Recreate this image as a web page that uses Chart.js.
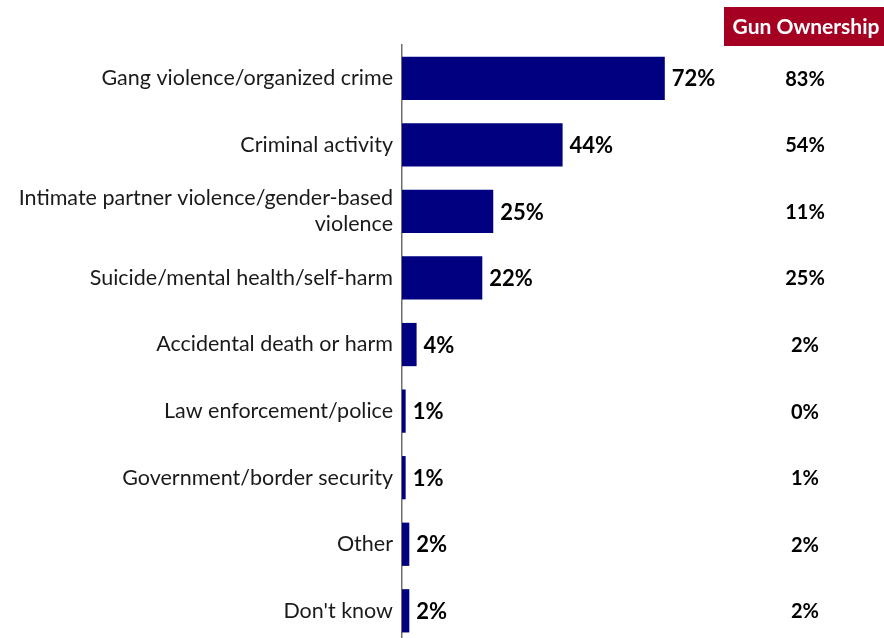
<!DOCTYPE html>
<html>
<head>
<meta charset="utf-8">
<script src="https://cdn.jsdelivr.net/npm/chart.js@4/dist/chart.umd.min.js"></script>
<style>
  html, body { margin: 0; padding: 0; background: #fff; overflow: hidden; }
  #wrap { position: relative; width: 884px; height: 638px; overflow: hidden; }
</style>
</head>
<body>
<div id="wrap"><canvas id="myChart" width="884" height="666"></canvas></div>
<script>
var categories = [
  'Gang violence/organized crime',
  'Criminal activity',
  ['Intimate partner violence/gender-based', 'violence'],
  'Suicide/mental health/self-harm',
  'Accidental death or harm',
  'Law enforcement/police',
  'Government/border security',
  'Other',
  "Don't know"
];
var totalVals = [72, 44, 25, 22, 4, 1, 1, 2, 2];
var gunOwnerVals = [83, 54, 11, 25, 2, 0, 1, 2, 2];
var gunOwnerTitle = 'Gun Ownership';

var FONT = 'Lato, "Open Sans", sans-serif';

// bar value labels plus the side column with its header box
var labelPlugin = {
  id: 'labels',
  afterDraw: function(chart) {
    var ctx = chart.ctx;
    var meta = chart.getDatasetMeta(0);
    var colX = 805;
    ctx.save();
    ctx.fillStyle = '#000';
    ctx.textBaseline = 'middle';
    meta.data.forEach(function(bar, i) {
      ctx.textAlign = 'left';
      ctx.font = 'bold 22px ' + FONT;
      ctx.fillText(totalVals[i] + '%', bar.x + 7, bar.y + 1);
      ctx.textAlign = 'center';
      ctx.font = 'bold 20px ' + FONT;
      ctx.fillText(gunOwnerVals[i] + '%', colX, bar.y + 1);
    });
    ctx.fillStyle = '#A50021';
    ctx.fillRect(724, 7, 160, 39);
    ctx.fillStyle = '#fff';
    ctx.font = 'bold 21px ' + FONT;
    ctx.textAlign = 'center';
    ctx.fillText(gunOwnerTitle, 806, 27);
    ctx.restore();
  }
};

var ctx = document.getElementById('myChart').getContext('2d');
var myChart = new Chart(ctx, {
  type: 'bar',
  data: {
    labels: categories,
    datasets: [{
      data: totalVals,
      backgroundColor: '#000080',
      barPercentage: 0.65,
      categoryPercentage: 1
    }]
  },
  options: {
    indexAxis: 'y',
    responsive: false,
    animation: false,
    layout: { padding: { top: 45, right: 117, bottom: 0, left: 0 } },
    plugins: {
      legend: { display: false },
      tooltip: { enabled: false }
    },
    scales: {
      x: {
        display: false,
        min: 0,
        max: 100
      },
      y: {
        afterFit: function(s) { s.width = 402; },
        grid: { display: false, drawTicks: false },
        border: { display: true, color: '#6e6e6e', width: 1.5 },
        ticks: {
          color: '#1a1a1a',
          padding: 9,
          font: { family: FONT, size: 21.5, lineHeight: 1.2 }
        }
      }
    }
  },
  plugins: [labelPlugin]
});
</script>
</body>
</html>
